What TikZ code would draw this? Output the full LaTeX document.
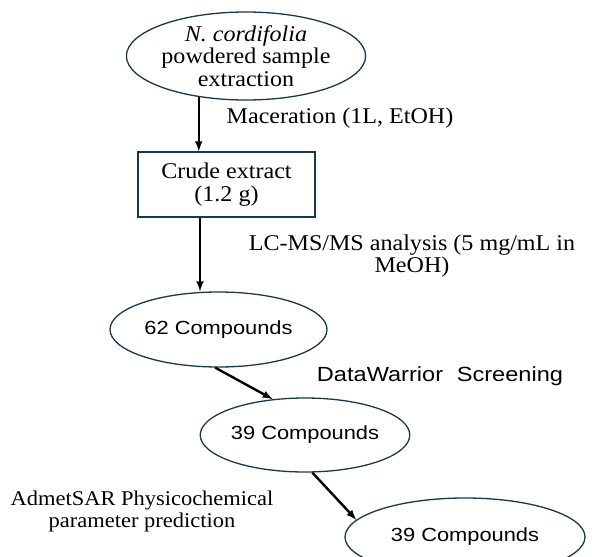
\documentclass[tikz,border=0pt]{standalone}
\usepackage{fontspec}
\setmainfont[FakeStretch=1.07]{Liberation Serif}
\setsansfont[FakeStretch=1.15]{Liberation Sans}
\usetikzlibrary{shapes.geometric, arrows, positioning}
\definecolor{shapeblue}{RGB}{24, 56, 78}

\begin{document}
\begin{tikzpicture}[x=1pt, y=-1pt,
    oval/.style={ellipse, draw=shapeblue, line width=1.3pt, inner sep=0pt},
    stagebox/.style={rectangle, draw=shapeblue, line width=1.3pt, inner sep=0pt},
    serifnote/.style={font=\fontsize{22.5}{22.5}\selectfont, align=center},
    sansnote/.style={font=\sffamily\fontsize{19}{21}\selectfont, align=center},
    flow/.style={->, >=latex, line width=2.4pt}]
    \useasboundingbox (0,0) rectangle (592,557);

    % shapes
    \node[oval, serifnote, minimum width=212, minimum height=88] (sample) at (246,56)
        {\textit{N. cordifolia}\\powdered sample\\extraction};
    \node[stagebox, serifnote, minimum width=177, minimum height=65] (crude) at (226.5,184.5)
        {Crude extract\\(1.2 g)};
    \node[oval, sansnote, minimum width=217, minimum height=75] (found) at (218.5,329.5) {62 Compounds};
    \node[oval, sansnote, minimum width=200, minimum height=74] (screened) at (305,435) {39 Compounds};
    \node[oval, sansnote, minimum width=240, minimum height=78] (predicted) at (465,537) {39 Compounds};

    % step labels
    \node[serifnote] (maclabel) at (340,118) {Maceration (1L, EtOH)};
    \node[serifnote] (lclabel) at (412,256) {LC-MS/MS analysis (5 mg/mL in\\MeOH)};
    \node[sansnote, font=\sffamily\fontsize{20.5}{22}\selectfont] (dwlabel) at (440,376)
        {DataWarrior\hspace{0.35em} Screening};
    \node[serifnote, font=\fontsize{21}{22}\selectfont] (admlabel) at (142,511)
        {AdmetSAR Physicochemical\\parameter prediction};

    % arrows
    \coordinate (axis) at (200,0);
    \draw[flow] (sample.221) -- (sample.221 |- crude.north);
    \draw[flow] (crude.south -| axis) -- (found.north -| axis);
    \draw[flow] (found.265) -- (screened.132);
    \draw[flow] (screened.281) -- (predicted.171);
\end{tikzpicture}
\end{document}
